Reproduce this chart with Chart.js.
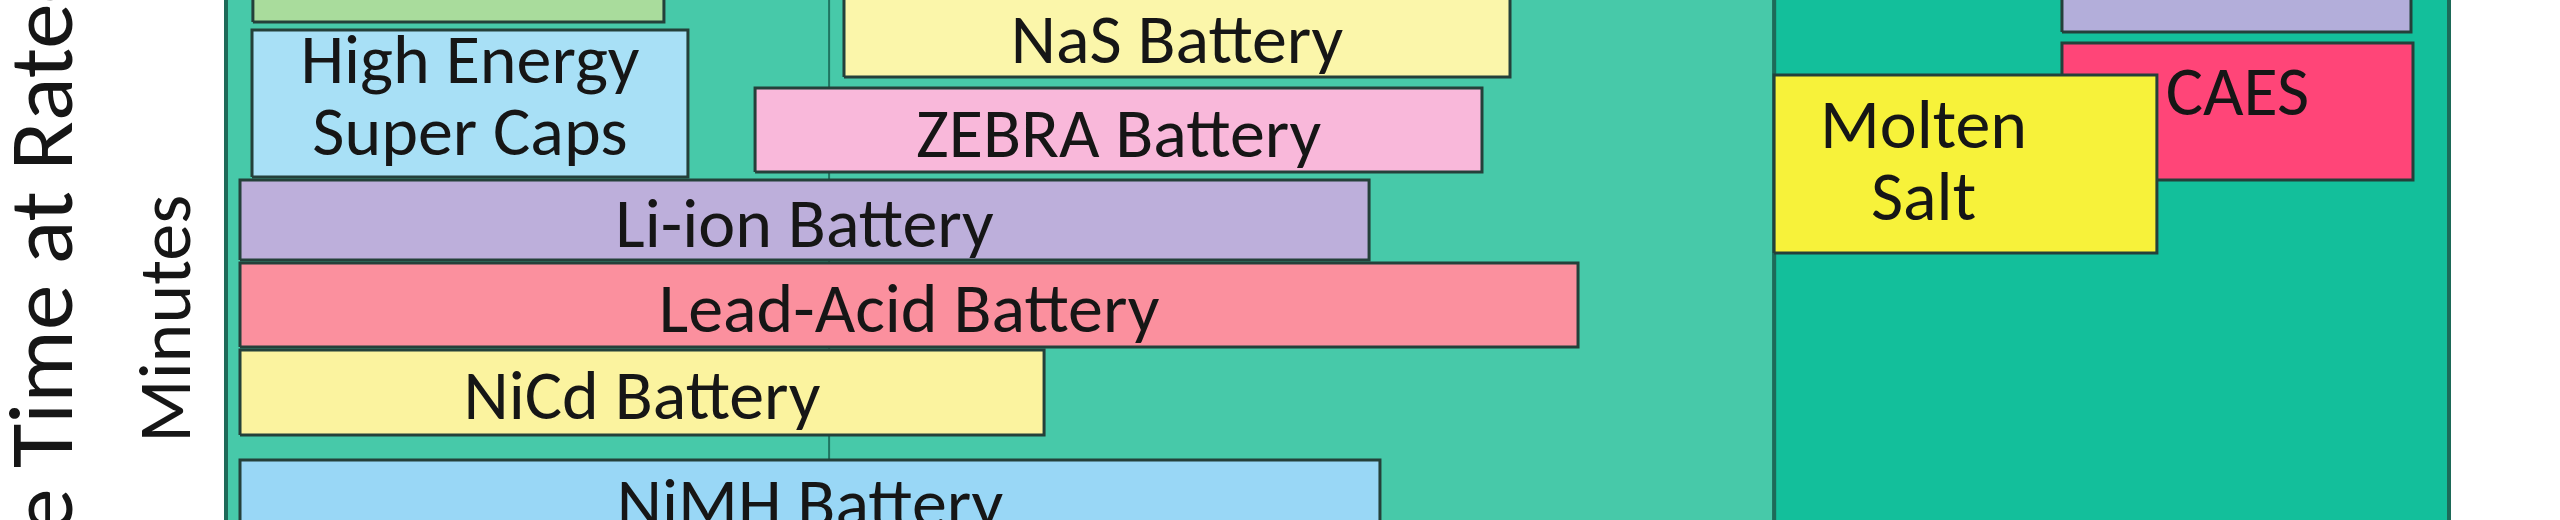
<!DOCTYPE html>
<html>
<head>
<meta charset="utf-8">
<title>Storage technologies – discharge time</title>
<script src="https://cdn.jsdelivr.net/npm/chart.js@4/dist/chart.umd.min.js"></script>
<style>
  html, body { margin: 0; padding: 0; background: #ffffff; }
  #wrap { width: 2560px; height: 520px; }
</style>
</head>
<body>
<div id="wrap"><canvas id="storage-chart" width="2560" height="520"></canvas></div>
<script>
// x: position along the power-rating axis (0 = plot left edge, 100 = right edge)
// y: position along the discharge-time axis (0 = bottom of view, 100 = top of view)
const techLabels = ['', 'High Energy\nSuper Caps', 'NaS Battery', 'ZEBRA Battery', 'Li-ion Battery',
  'Lead-Acid Battery', 'NiCd Battery', 'NiMH Battery', '', 'CAES', 'Molten\nSalt'];
const powerFrom = [1.21, 1.17, 27.80, 23.80, 0.63, 0.63, 0.63, 0.63, 82.59, 82.59, 69.64];
const powerTo = [19.70, 20.78, 57.76, 56.50, 51.42, 60.82, 36.80, 51.91, 98.29, 98.38, 86.86];
const timeFrom = [95.77, 65.96, 85.19, 66.92, 50.00, 33.27, 16.35, -3.85, 93.85, 65.38, 51.35];
const timeTo = [111.0, 94.23, 100.96, 83.08, 65.38, 49.42, 32.69, 11.54, 109.6, 91.73, 85.58];
const techColors = ['#a9dc9c', '#a8e0f6', '#fbf6aa', '#f9b8da', '#bdafdb', '#fb909e',
  '#fbf39f', '#99d7f6', '#b3aeda', '#ff4578', '#f7f23a'];

const panelFrom = [0, 69.64];
const panelTo = [69.64, 100];
const panelColors = ['#47c9a9', '#13bf9b'];

const gridPower = [27.13];

const timeZoneLabels = ['Minutes'];
const timeZoneMid = [38.7];
const axisTitle = 'Discharge Time at Rated Power';

function rectPoints(x0, x1, y0, y1) {
  return [
    { x: x0, y: y0 }, { x: x1, y: y0 }, { x: x1, y: y1 }, { x: x0, y: y1 }, { x: x0, y: y0 }
  ];
}

const boxDatasets = techLabels.map((label, i) => ({
  label: label || 'box ' + i,
  data: rectPoints(powerFrom[i], powerTo[i], timeFrom[i], timeTo[i]),
  backgroundColor: techColors[i],
  borderColor: '#24403a',
  borderWidth: 3,
  fill: 'shape',
  order: techLabels.length - i
}));

const panelDatasets = panelFrom.map((from, i) => ({
  label: 'panel ' + i,
  data: rectPoints(from, panelTo[i], -20, 120),
  backgroundColor: panelColors[i],
  borderColor: '#1d6a58',
  borderWidth: 4,
  fill: 'shape',
  order: 100
}));

const gridDatasets = gridPower.map((p) => ({
  label: 'grid',
  data: [{ x: p, y: -20 }, { x: p, y: 120 }],
  borderColor: '#1f7561',
  borderWidth: 2,
  fill: false,
  order: 50
}));

const boxLabelPlugin = {
  id: 'boxLabels',
  afterDatasetsDraw(chart, args, opts) {
    const { ctx, scales: { x, y } } = chart;
    ctx.save();
    ctx.font = opts.font;
    ctx.fillStyle = opts.color;
    ctx.textAlign = 'center';
    ctx.textBaseline = 'alphabetic';
    techLabels.forEach((label, i) => {
      if (!label) return;
      const nudge = opts.nudge[label] || {};
      const cx = (x.getPixelForValue(powerFrom[i]) + x.getPixelForValue(powerTo[i])) / 2 + (nudge.dx || 0);
      const cy = (y.getPixelForValue(timeFrom[i]) + y.getPixelForValue(timeTo[i])) / 2 + (nudge.dy || 0);
      const lines = label.split('\n');
      lines.forEach((line, k) => {
        ctx.fillText(line, cx, cy + opts.capHalf + (k - (lines.length - 1) / 2) * opts.lineHeight);
      });
    });
    ctx.restore();
  }
};

const axisTextPlugin = {
  id: 'axisText',
  afterDraw(chart, args, opts) {
    const { ctx, chartArea, scales: { y } } = chart;
    ctx.save();
    ctx.fillStyle = opts.color;
    ctx.textBaseline = 'alphabetic';

    // big rotated axis title, only its middle part is in view
    ctx.font = opts.titleFont;
    const prefix = ctx.measureText('Discharge ').width;
    ctx.translate(chartArea.left - opts.titleOffset, opts.titleWordStart + prefix);
    ctx.rotate(-Math.PI / 2);
    ctx.textAlign = 'left';
    ctx.fillText(axisTitle, 0, 0);
    ctx.restore();

    ctx.save();
    ctx.fillStyle = opts.color;
    ctx.font = opts.zoneFont;
    ctx.textAlign = 'center';
    ctx.textBaseline = 'alphabetic';
    timeZoneLabels.forEach((label, i) => {
      ctx.save();
      ctx.translate(chartArea.left - opts.zoneOffset, y.getPixelForValue(timeZoneMid[i]));
      ctx.rotate(-Math.PI / 2);
      ctx.fillText(label, 0, 0);
      ctx.restore();
    });
    ctx.restore();
  }
};

new Chart(document.getElementById('storage-chart'), {
  type: 'scatter',
  data: {
    datasets: [...boxDatasets, ...gridDatasets, ...panelDatasets]
  },
  options: {
    responsive: false,
    devicePixelRatio: 1,
    animation: false,
    events: [],
    showLine: true,
    clip: false,
    layout: {
      padding: { left: 226, right: 111, top: 0, bottom: 0 }
    },
    elements: {
      point: { radius: 0 },
      line: { tension: 0, borderJoinStyle: 'miter' }
    },
    scales: {
      x: { type: 'linear', min: 0, max: 100, display: false },
      y: { type: 'linear', min: 0, max: 100, display: false }
    },
    plugins: {
      legend: { display: false },
      tooltip: { enabled: false },
      boxLabels: {
        font: '70px Carlito, Lato, sans-serif',
        color: '#161616',
        lineHeight: 72,
        capHalf: 27,
        nudge: {
          'High Energy\nSuper Caps': { dy: -12 },
          'CAES': { dy: -24 },
          'Molten\nSalt': { dx: -42, dy: -7 }
        }
      },
      axisText: {
        color: '#161616',
        titleFont: '91px Carlito, Lato, sans-serif',
        titleOffset: 154,
        titleWordStart: 468,
        zoneFont: '74px Carlito, Lato, sans-serif',
        zoneOffset: 36
      }
    }
  },
  plugins: [boxLabelPlugin, axisTextPlugin]
});
</script>
</body>
</html>
